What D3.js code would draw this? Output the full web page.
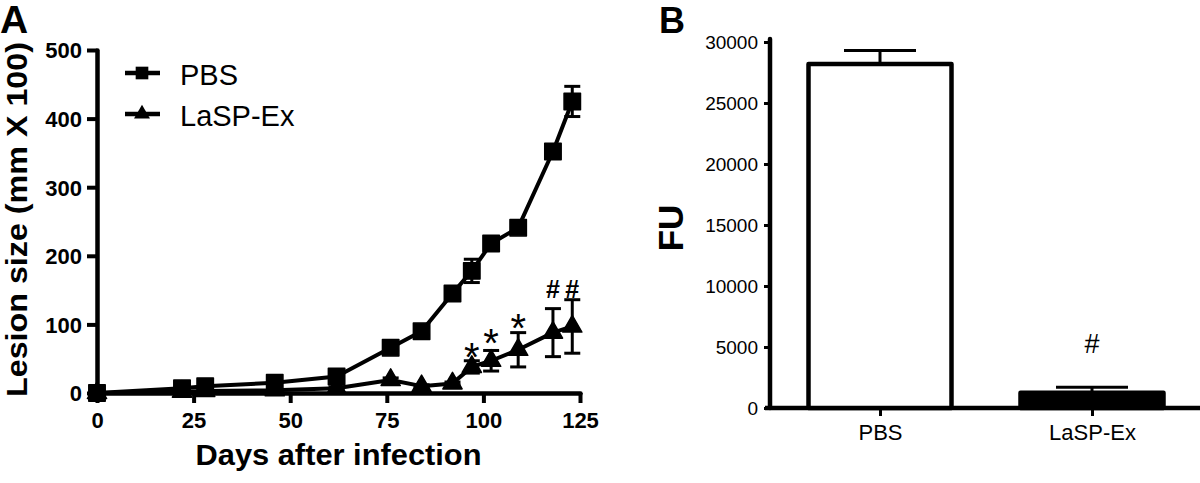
<!DOCTYPE html>
<html>
<head>
<meta charset="utf-8">
<script src="https://cdn.jsdelivr.net/npm/d3@7/dist/d3.min.js"></script>
<style>
  html, body { margin: 0; padding: 0; background: #fff; }
  svg { display: block; font-family: "Liberation Sans", Arial, sans-serif; }
</style>
</head>
<body>
<svg id="chart" width="1200" height="483"></svg>
<script>
// ---------- Panel A data ----------
const days = [0, 22, 28, 46, 62, 76, 84, 92, 97, 102, 109, 118, 123];
const pbsLesion = [0, 7, 10, 15, 24, 66, 90, 145, 178, 218, 241, 352, 425];
const pbsLesionErr = [0, 3, 3, 3, 4, 4, 6, 8, 17, 6, 7, 5, 22];
const laspLesion = [0, 2, 3, 4, 7, 19, 10, 14, 38, 47, 63, 88, 97];
const laspLesionErr = [0, 1, 1, 1, 2, 3, 2, 2, 9, 15, 25, 35, 39];
const lesionTicks = [0, 100, 200, 300, 400, 500];
const dayTicks = [0, 25, 50, 75, 100, 125];
const seriesNames = ["PBS", "LaSP-Ex"];
// significance marks on LaSP-Ex series (index into days) and their level (lesion units)
const markIndex = [8, 9, 10, 11, 12];
const markSymbol = ["*", "*", "*", "#", "#"];
const markLevel = [67, 88, 109, 151, 151];

// ---------- Panel B data ----------
const groups = ["PBS", "LaSP-Ex"];
const fuValues = [28200, 1250];
const fuErr = [1100, 460];
const fuTicks = [0, 5000, 10000, 15000, 20000, 25000, 30000];
const fuMarks = ["", "#"];

const svg = d3.select("#chart");
const FONT = "'Liberation Sans', Arial, sans-serif";

// ================= Panel A =================
const xA = d3.scaleLinear().domain([0, 125]).range([97, 580]);
const yA = d3.scaleLinear().domain([0, 500]).range([393, 50]);

svg.append("text").attr("x", 0).attr("y", 33)
  .attr("font-size", 39).attr("font-weight", "bold").text("A");

const gyA = svg.append("g").attr("transform", `translate(${xA(0)},0)`)
  .call(d3.axisLeft(yA).tickValues(lesionTicks).tickSize(10).tickSizeOuter(0).tickPadding(5));
const gxA = svg.append("g").attr("transform", `translate(0,${yA(0)})`)
  .call(d3.axisBottom(xA).tickValues(dayTicks).tickSize(10).tickSizeOuter(0).tickPadding(9));
[gyA, gxA].forEach(g => {
  g.select(".domain").attr("stroke", "#000").attr("stroke-width", 4.5).attr("stroke-linecap", "round");
  g.selectAll(".tick line").attr("stroke", "#000").attr("stroke-width", 4);
  g.selectAll(".tick text").attr("fill", "#000").attr("font-size", 22).attr("font-weight", "bold")
    .attr("font-family", FONT);
});
gyA.selectAll(".tick text").attr("dy", "0.36em");

svg.append("text")
  .attr("transform", `translate(27,${(yA(0) + yA(500)) / 2 - 2}) rotate(-90)`)
  .attr("text-anchor", "middle").attr("font-size", 30).attr("font-weight", "bold")
  .attr("textLength", 355).attr("lengthAdjust", "spacingAndGlyphs")
  .text("Lesion size (mm X 100)");
svg.append("text")
  .attr("x", (xA(0) + xA(125)) / 2).attr("y", 465)
  .attr("text-anchor", "middle").attr("font-size", 30).attr("font-weight", "bold")
  .attr("textLength", 286).attr("lengthAdjust", "spacingAndGlyphs")
  .text("Days after infection");

const seriesA = [
  { name: seriesNames[0], vals: pbsLesion, errs: pbsLesionErr, shape: d3.symbolSquare },
  { name: seriesNames[1], vals: laspLesion, errs: laspLesionErr, shape: d3.symbolTriangle }
];

const line = d3.line().x(d => xA(d[0])).y(d => yA(d[1]));

[seriesA[1], seriesA[0]].forEach(s => {
  const pts = days.map((d, i) => [d, s.vals[i], s.errs[i]]);
  const g = svg.append("g");
  pts.filter(p => p[2] > 0).forEach(p => {
    const x = xA(p[0]), y1 = yA(p[1] + p[2]), y2 = yA(p[1] - p[2]);
    g.append("line").attr("x1", x).attr("x2", x).attr("y1", y1).attr("y2", y2)
      .attr("stroke", "#000").attr("stroke-width", 3);
    [y1, y2].forEach(yy => g.append("line").attr("x1", x - 8).attr("x2", x + 8)
      .attr("y1", yy).attr("y2", yy).attr("stroke", "#000").attr("stroke-width", 3));
  });
  g.append("path").datum(pts).attr("d", line)
    .attr("fill", "none").attr("stroke", "#000").attr("stroke-width", 4).attr("stroke-linejoin", "round");
  const sym = d3.symbol().type(s.shape).size(s.shape === d3.symbolSquare ? 270 : 160);
  g.selectAll("path.m").data(pts).enter().append("path")
    .attr("class", "m")
    .attr("transform", p => `translate(${xA(p[0])},${yA(p[1])})`)
    .attr("d", sym).attr("fill", "#000").attr("stroke", "#000").attr("stroke-width", 1.5)
    .attr("stroke-linejoin", "round");
});

markIndex.forEach((idx, k) => {
  const cy = yA(markLevel[k]);
  const sym = markSymbol[k];
  const t = svg.append("text").attr("x", xA(days[idx])).attr("text-anchor", "middle").text(sym);
  if (sym === "*") t.attr("y", cy + 24).attr("font-size", 40);
  else t.attr("y", cy + 9).attr("font-size", 25).attr("font-weight", "bold");
});

seriesA.forEach((s, i) => {
  const ly = 73 + i * 41;
  svg.append("line").attr("x1", 125).attr("x2", 160).attr("y1", ly).attr("y2", ly)
    .attr("stroke", "#000").attr("stroke-width", 4.5);
  svg.append("path").attr("transform", `translate(142,${ly})`)
    .attr("d", d3.symbol().type(s.shape).size(s.shape === d3.symbolSquare ? 160 : 110))
    .attr("fill", "#000");
  svg.append("text").attr("x", 180).attr("y", ly + 12).attr("font-size", 29).text(s.name);
});

// ================= Panel B =================
const xB = d3.scalePoint().domain(groups).range([880, 1092]);
const yB = d3.scaleLinear().domain([0, 30000]).range([408, 42]);
const barW = 143;

svg.append("text").attr("x", 659).attr("y", 33)
  .attr("font-size", 36).attr("font-weight", "bold").text("B");

const gyB = svg.append("g").attr("transform", "translate(770,0)")
  .call(d3.axisLeft(yB).tickValues(fuTicks).tickFormat(d3.format("d")).tickSize(6).tickSizeOuter(0).tickPadding(6));
gyB.select(".domain").attr("d", `M0,${yB(0)}V${yB(30000) - 3}`)
  .attr("stroke", "#000").attr("stroke-width", 4.5).attr("stroke-linecap", "round");
gyB.selectAll(".tick line").attr("stroke", "#000").attr("stroke-width", 3);
gyB.selectAll(".tick text").attr("fill", "#000").attr("font-size", 19)
  .attr("font-family", FONT).attr("dy", "0.36em");

const gxB = svg.append("g").attr("transform", `translate(0,${yB(0)})`)
  .call(d3.axisBottom(xB).tickSize(8).tickSizeOuter(0).tickPadding(8));
gxB.select(".domain").attr("d", "M765,0H1200").attr("stroke", "#000").attr("stroke-width", 4.5);
gxB.selectAll(".tick line").attr("stroke", "#000").attr("stroke-width", 3);
gxB.selectAll(".tick text").attr("fill", "#000").attr("font-size", 22).attr("font-family", FONT);

groups.forEach((g, i) => {
  const x = xB(g), yTop = yB(fuValues[i] + fuErr[i]);
  svg.append("line").attr("x1", x).attr("x2", x).attr("y1", yTop).attr("y2", yB(fuValues[i]))
    .attr("stroke", "#000").attr("stroke-width", 3);
  svg.append("line").attr("x1", x - 36).attr("x2", x + 36).attr("y1", yTop).attr("y2", yTop)
    .attr("stroke", "#000").attr("stroke-width", 3);
});

svg.selectAll("rect.bar").data(groups).enter().append("rect")
  .attr("class", "bar")
  .attr("x", g => xB(g) - barW / 2)
  .attr("width", barW)
  .attr("y", (g, i) => yB(fuValues[i]))
  .attr("height", (g, i) => yB(0) - yB(fuValues[i]))
  .attr("fill", (g, i) => i === 0 ? "#fff" : "#000")
  .attr("stroke", "#000").attr("stroke-width", 4.5).attr("stroke-linejoin", "round");

groups.forEach((g, i) => {
  if (!fuMarks[i]) return;
  svg.append("text").attr("x", xB(g)).attr("y", yB(fuValues[i] + fuErr[i]) - 34)
    .attr("text-anchor", "middle").attr("font-size", 27).text(fuMarks[i]);
});

svg.append("text")
  .attr("transform", "translate(683,228) rotate(-90)")
  .attr("text-anchor", "middle").attr("font-size", 35).attr("font-weight", "bold")
  .text("FU");
</script>
</body>
</html>
